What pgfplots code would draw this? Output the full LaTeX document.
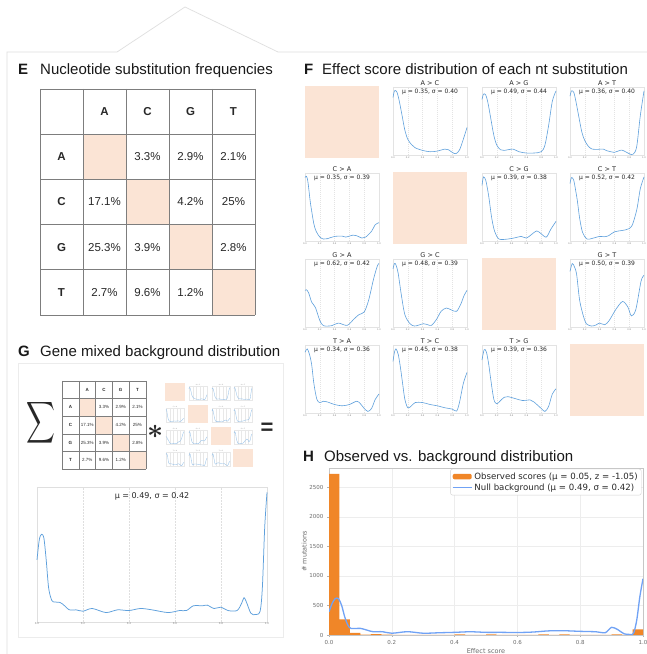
\documentclass[border=0pt]{standalone}
\usepackage{graphicx}
\usepackage{pgfplots}
\pgfplotsset{compat=1.18}
\usepackage{pgfplotstable}
\usepackage{fontspec}
\setmainfont{Liberation Sans}
\newfontfamily\dejavu{DejaVu Sans}

\definecolor{peach}{RGB}{251,228,213}
\definecolor{kdeblue}{RGB}{95,160,220}
\definecolor{nullblue}{RGB}{112,162,245}
\definecolor{histor}{RGB}{240,134,40}
\definecolor{tablegray}{RGB}{125,125,125}
\definecolor{txt}{RGB}{40,40,40}
\definecolor{ttl}{RGB}{25,25,25}

% ---------------- data ----------------
\pgfplotstableread{
x y
0 0.88
0.02 0.98
0.05 0.97
0.08 0.85
0.12 0.62
0.16 0.38
0.2 0.24
0.25 0.16
0.3 0.11
0.4 0.07
0.5 0.05
0.6 0.06
0.7 0.09
0.75 0.08
0.8 0.04
0.85 0.02
0.9 0.08
0.95 0.24
1.0 0.42
}\tAC
\pgfplotstableread{
x y
0 0.85
0.02 0.93
0.05 0.92
0.08 0.8
0.12 0.55
0.16 0.3
0.2 0.15
0.25 0.08
0.3 0.07
0.35 0.08
0.42 0.09
0.5 0.05
0.6 0.03
0.7 0.03
0.8 0.05
0.85 0.15
0.9 0.45
0.95 0.82
1.0 0.98
}\tAG
\pgfplotstableread{
x y
0 0.9
0.02 0.98
0.05 0.96
0.08 0.82
0.12 0.58
0.16 0.35
0.2 0.22
0.25 0.13
0.3 0.09
0.35 0.085
0.45 0.09
0.5 0.065
0.6 0.04
0.65 0.06
0.7 0.075
0.75 0.05
0.8 0.02
0.85 0.01
0.9 0.12
0.95 0.6
1.0 0.98
}\tAT
\pgfplotstableread{
x y
0 0.97
0.02 0.99
0.04 0.9
0.07 0.61
0.09 0.46
0.12 0.26
0.15 0.15
0.2 0.06
0.25 0.03
0.3 0.035
0.4 0.07
0.5 0.075
0.55 0.06
0.65 0.09
0.7 0.08
0.77 0.045
0.82 0.06
0.9 0.15
0.95 0.25
1.0 0.28
}\tCA
\pgfplotstableread{
x y
0 0.85
0.02 0.98
0.05 0.93
0.08 0.76
0.1 0.61
0.13 0.36
0.17 0.15
0.23 0.03
0.35 0.03
0.45 0.05
0.53 0.07
0.6 0.045
0.67 0.1
0.74 0.155
0.8 0.11
0.87 0.06
0.93 0.18
1.0 0.3
}\tCG
\pgfplotstableread{
x y
0 0.88
0.02 0.97
0.05 0.93
0.08 0.75
0.1 0.61
0.13 0.35
0.17 0.13
0.23 0.03
0.3 0.04
0.4 0.07
0.46 0.065
0.52 0.08
0.6 0.14
0.7 0.16
0.75 0.17
0.8 0.19
0.84 0.24
0.88 0.38
0.91 0.52
0.95 0.8
1.0 0.98
}\tCT
\pgfplotstableread{
x y
0 0.56
0.02 0.57
0.05 0.52
0.09 0.38
0.14 0.3
0.2 0.1
0.25 0.02
0.36 0.02
0.45 0.06
0.57 0.025
0.66 0.12
0.73 0.19
0.8 0.23
0.86 0.41
0.93 0.75
0.98 0.94
1.0 0.97
}\tGA
\pgfplotstableread{
x y
0 0.89
0.02 0.97
0.04 0.95
0.07 0.82
0.11 0.51
0.16 0.19
0.23 0.05
0.29 0.015
0.35 0.03
0.41 0.05
0.47 0.035
0.52 0.025
0.59 0.12
0.65 0.24
0.72 0.29
0.79 0.26
0.86 0.24
0.92 0.36
0.96 0.48
1.0 0.56
}\tGC
\pgfplotstableread{
x y
0 0.85
0.03 0.97
0.06 0.92
0.09 0.8
0.13 0.41
0.18 0.17
0.22 0.05
0.29 0.015
0.35 0.03
0.4 0.06
0.47 0.035
0.53 0.1
0.62 0.27
0.71 0.39
0.78 0.31
0.83 0.17
0.89 0.27
0.96 0.7
1.0 0.79
}\tGT
\pgfplotstableread{
x y
0 0.93
0.03 0.98
0.06 0.9
0.09 0.74
0.12 0.45
0.16 0.21
0.2 0.16
0.25 0.18
0.3 0.17
0.4 0.13
0.5 0.11
0.6 0.13
0.7 0.18
0.75 0.14
0.8 0.07
0.85 0.024
0.9 0.07
0.95 0.21
1.0 0.29
}\tTA
\pgfplotstableread{
x y
0 0.79
0.02 0.93
0.04 0.98
0.07 0.9
0.1 0.7
0.13 0.45
0.16 0.21
0.2 0.08
0.25 0.11
0.3 0.16
0.4 0.16
0.5 0.13
0.6 0.11
0.7 0.08
0.8 0.06
0.86 0.03
0.9 0.17
0.95 0.45
1.0 0.62
}\tTC
\pgfplotstableread{
x y
0 0.81
0.03 0.97
0.06 0.93
0.09 0.75
0.12 0.5
0.16 0.21
0.2 0.14
0.25 0.19
0.3 0.24
0.35 0.25
0.45 0.22
0.55 0.19
0.65 0.2
0.7 0.17
0.8 0.07
0.85 0.024
0.9 0.1
0.95 0.29
1.0 0.37
}\tTG
\pgfplotstableread{
x y
0 0.46
0.01 0.61
0.02 0.65
0.03 0.62
0.04 0.46
0.05 0.26
0.06 0.18
0.07 0.15
0.1 0.145
0.12 0.12
0.14 0.09
0.17 0.09
0.2 0.08
0.24 0.10
0.3 0.07
0.35 0.09
0.4 0.085
0.45 0.10
0.5 0.09
0.57 0.07
0.62 0.085
0.65 0.085
0.68 0.12
0.72 0.12
0.74 0.125
0.77 0.10
0.8 0.11
0.83 0.085
0.87 0.085
0.89 0.14
0.9 0.18
0.91 0.15
0.93 0.065
0.95 0.055
0.97 0.08
0.98 0.26
0.99 0.70
1.0 0.96
}\tG
\pgfplotstableread{
x y
0 2730
0.03333 265
0.06667 35
0.1 8
0.13333 13
0.16667 8
0.2 4
0.23333 3
0.26667 3
0.3 3
0.33333 3
0.36667 3
0.4 12
0.43333 4
0.46667 3
0.5 12
0.53333 3
0.56667 3
0.6 3
0.63333 3
0.66667 12
0.7 4
0.73333 12
0.76667 3
0.8 3
0.83333 3
0.86667 3
0.9 10
0.93333 3
0.96667 96
1.0 96
}\tHist
\pgfplotstableread{
x y
0 393
0.01 534
0.02 618
0.03 615
0.04 506
0.05 309
0.06 169
0.07 112
0.1 112
0.12 84
0.14 56
0.17 56
0.2 30
0.25 56
0.3 30
0.35 38
0.4 45
0.45 55
0.5 45
0.55 45
0.6 42
0.65 50
0.7 70
0.75 72
0.8 62
0.85 55
0.88 40
0.9 130
0.92 90
0.94 20
0.96 10
0.97 30
0.98 250
0.99 650
1.0 955
}\tNull

% ---------------- styles ----------------
\pgfplotsset{
  kdestyle/.style={anchor=south west, scale only axis, width=74pt, height=68pt,
    xmin=0, xmax=1, ymin=0, ymax=1.04, clip=false,
    ytick=\empty, xtick={0,0.2,0.4,0.6,0.8,1},
    xticklabels={0.0,0.2,0.4,0.6,0.8,1.0},
    xticklabel style={font=\dejavu\fontsize{2.3}{3}\selectfont, text=gray, inner sep=0.5pt, yshift=-1.5pt},
    major tick length=0pt, xmajorgrids,
    major grid style={dash pattern=on 1pt off 1pt, gray!22, line width=0.3pt},
    axis line style={gray!22, line width=0.6pt}},
  ministyle/.style={anchor=south west, scale only axis, width=18pt, height=14pt,
    xmin=0, xmax=1, ymin=0, ymax=1.1, clip=false,
    ytick=\empty, xtick={0.2,0.4,0.6,0.8}, xticklabels={},
    major tick length=0pt, xmajorgrids,
    major grid style={dash pattern=on 0.4pt off 0.6pt, gray!18, line width=0.12pt},
    axis line style={gray!18, line width=0.2pt}},
}
\newcommand{\kde}[5]{%
  \begin{axis}[kdestyle, at={(#1pt,#2pt)}]
    \addplot[kdeblue, line width=0.6pt, smooth, tension=0.5] table {#3};
    \node[font=\dejavu\fontsize{6.5}{7}\selectfont, text=txt, anchor=south, inner sep=1pt] at (rel axis cs:0.5,1) {#4};
    \node[font=\dejavu\fontsize{6}{7}\selectfont, text=txt] at (rel axis cs:0.5,0.93) {#5};
  \end{axis}}
\newcommand{\mini}[4]{%
  \begin{axis}[ministyle, at={(#1pt,#2pt)}]
    \addplot[kdeblue!65, line width=0.35pt, smooth, tension=0.5] table {#3};
    \node[font=\dejavu\fontsize{1.5}{2}\selectfont, text=gray, anchor=south, inner sep=0.2pt] at (rel axis cs:0.5,1) {#4};
  \end{axis}}
\newcommand{\nttable}[1]{%
  \foreach \k in {1,2,3,4} {\fill[peach] ({43*\k},{-45.2*\k}) rectangle ({43*\k+43},{-45.2*\k-45.2});}
  \foreach \k in {0,1,2,3,4,5} {
    \draw[tablegray, line width=#1] ({43*\k},0) -- ({43*\k},-226);
    \draw[tablegray, line width=#1] (0,{-45.2*\k}) -- (215,{-45.2*\k});}
  \foreach \t [count=\k] in {A,C,G,T} {
    \node[font=\bfseries\fontsize{11.5}{12}\selectfont, text=txt] at ({43*\k+21.5},-22.6) {\t};
    \node[font=\bfseries\fontsize{11.5}{12}\selectfont, text=txt] at (21.5,{-45.2*\k-22.6}) {\t};}
  \foreach \r/\c/\v in {1/2/3.3\%,1/3/2.9\%,1/4/2.1\%,2/1/17.1\%,2/3/4.2\%,2/4/25\%,3/1/25.3\%,3/2/3.9\%,3/4/2.8\%,4/1/2.7\%,4/2/9.6\%,4/3/1.2\%} {
    \node[font=\fontsize{11.5}{12}\selectfont, text=txt] at ({43*\c+21.5},{-45.2*\r-22.6}) {\v};}
}

\begin{document}
\begin{tikzpicture}[x=1pt,y=1pt]
\path[use as bounding box, fill=white] (0,0) rectangle (647,654);
% outline
\draw[gray!25, line width=0.7pt] (7,0) -- (7,602) -- (117,602) -- (185,647) -- (278,602) -- (647,602);

% ---------- E ----------
\node[anchor=base west, inner sep=0, text=ttl, font=\bfseries\fontsize{15}{18}\selectfont] at (18,579) {E};
\node[anchor=base west, inner sep=0, text=ttl, font=\fontsize{15}{18}\selectfont] at (40,579) {Nucleotide substitution frequencies};
\begin{scope}[shift={(40,565)}]
  \nttable{0.9pt}
\end{scope}

% ---------- F ----------
\node[anchor=base west, inner sep=0, text=ttl, font=\bfseries\fontsize{15}{18}\selectfont] at (304,579) {F};
\node[anchor=base west, inner sep=0, text=ttl, font=\fontsize{15}{18}\selectfont] at (322,579) {Effect score distribution of each nt substitution};
\fill[peach] (305,496) rectangle (379,568);
\fill[peach] (393,410) rectangle (467,482);
\fill[peach] (482,324) rectangle (556,396);
\fill[peach] (570,238) rectangle (644,310);
\kde{393}{499}{\tAC}{A > C}{μ = 0.35, σ = 0.40}
\kde{482}{499}{\tAG}{A > G}{μ = 0.49, σ = 0.44}
\kde{570}{499}{\tAT}{A > T}{μ = 0.36, σ = 0.40}
\kde{305}{413}{\tCA}{C > A}{μ = 0.35, σ = 0.39}
\kde{482}{413}{\tCG}{C > G}{μ = 0.39, σ = 0.38}
\kde{570}{413}{\tCT}{C > T}{μ = 0.52, σ = 0.42}
\kde{305}{327}{\tGA}{G > A}{μ = 0.62, σ = 0.42}
\kde{393}{327}{\tGC}{G > C}{μ = 0.48, σ = 0.39}
\kde{570}{327}{\tGT}{G > T}{μ = 0.50, σ = 0.39}
\kde{305}{241}{\tTA}{T > A}{μ = 0.34, σ = 0.36}
\kde{393}{241}{\tTC}{T > C}{μ = 0.45, σ = 0.38}
\kde{482}{241}{\tTG}{T > G}{μ = 0.39, σ = 0.36}

% ---------- G ----------
\node[anchor=base west, inner sep=0, text=ttl, font=\bfseries\fontsize{15}{18}\selectfont] at (18,297) {G};
\node[anchor=base west, inner sep=0, text=ttl, font=\fontsize{15}{18}\selectfont] at (40,297) {Gene mixed background distribution};
\draw[gray!15, line width=0.8pt] (18,17) rectangle (283,291);
\node[text=txt] at (41,231) {\scalebox{2.0}[2.9]{$\displaystyle\sum$}};
\begin{scope}[shift={(62,273)}, scale=0.39, transform shape]
  \nttable{0.35pt}
\end{scope}
\node[text=txt] at (156,222) {\scalebox{2.8}{\boldmath$\ast$}};
\node[text=txt, font=\bfseries\fontsize{22}{22}\selectfont] at (267,225) {=};
\fill[peach] (165,253) rectangle (185,271);
\fill[peach] (188,231) rectangle (208,249);
\fill[peach] (211,209) rectangle (231,227);
\fill[peach] (233,187) rectangle (253,205);
\mini{189}{254}{\tAC}{A > C}
\mini{212}{254}{\tAG}{A > G}
\mini{234}{254}{\tAT}{A > T}
\mini{166}{232}{\tCA}{C > A}
\mini{212}{232}{\tCG}{C > G}
\mini{234}{232}{\tCT}{C > T}
\mini{166}{210}{\tGA}{G > A}
\mini{189}{210}{\tGC}{G > C}
\mini{234}{210}{\tGT}{G > T}
\mini{166}{188}{\tTA}{T > A}
\mini{189}{188}{\tTC}{T > C}
\mini{212}{188}{\tTG}{T > G}

\begin{axis}[anchor=south west, at={(37pt,32pt)}, scale only axis, width=230pt, height=135pt,
  xmin=0, xmax=1, ymin=0, ymax=1, clip=false,
  ytick=\empty, xtick={0,0.2,0.4,0.6,0.8,1}, xticklabels={0.0,0.2,0.4,0.6,0.8,1.0},
  xticklabel style={font=\dejavu\fontsize{2.6}{3}\selectfont, text=gray, inner sep=0.5pt},
  major tick length=0pt, xmajorgrids,
  major grid style={dash pattern=on 1.5pt off 1.5pt, gray!25, line width=0.35pt},
  axis line style={gray!25, line width=0.9pt}]
  \addplot[kdeblue, line width=0.75pt, smooth, tension=0.5] table {\tG};
  \node[font=\dejavu\fontsize{8}{9}\selectfont, text=txt] at (rel axis cs:0.5,0.93) {μ = 0.49, σ = 0.42};
\end{axis}

% ---------- H ----------
\node[anchor=base west, inner sep=0, text=ttl, font=\bfseries\fontsize{15}{18}\selectfont] at (303,192) {H};
\node[anchor=base west, inner sep=0, text=ttl, font=\fontsize{15}{18}\selectfont] at (324,192) {Observed vs. background distribution};
\begin{axis}[anchor=south west, at={(329pt,19pt)}, scale only axis, width=314pt, height=167pt,
  xmin=0, xmax=1, ymin=0, ymax=2830,
  xtick={0,0.2,0.4,0.6,0.8,1}, xticklabels={0.0,0.2,0.4,0.6,0.8,1.0},
  ytick={0,500,1000,1500,2000,2500}, yticklabels={0,500,1000,1500,2000,2500},
  ticklabel style={font=\dejavu\fontsize{5.5}{6}\selectfont, text=gray!85!black},
  grid=major, major grid style={gray!14, line width=0.4pt},
  axis line style={gray!45, line width=0.5pt},
  tick align=outside, major tick length=2pt, tick style={gray!60, line width=0.4pt},
  xtick pos=bottom, ytick pos=left,
  xlabel={Effect score}, ylabel={\# mutations},
  label style={font=\dejavu\fontsize{6.5}{7}\selectfont, text=gray!85!black},
  xlabel style={yshift=3pt}, ylabel style={yshift=-4pt},
  legend style={at={(0.995,0.995)}, anchor=north east, font=\dejavu\fontsize{8.6}{10}\selectfont,
    draw=gray!35, rounded corners=2pt, inner sep=1.5pt, row sep=-1pt, text=txt},
  legend cell align=left]
  \addplot[ybar interval, fill=histor, draw=none,
    legend image code/.code={\fill[histor] (0pt,-2.8pt) rectangle (19pt,2.8pt);}] table {\tHist};
  \addlegendentry{Observed scores (μ = 0.05, z = -1.05)}
  \addplot[nullblue, line width=1.3pt, smooth, tension=0.5,
    legend image code/.code={\draw[nullblue, line width=1.3pt] (0pt,0pt) -- (19pt,0pt);}] table {\tNull};
  \addlegendentry{Null background (μ = 0.49, σ = 0.42)}
\end{axis}
\end{tikzpicture}
\end{document}
